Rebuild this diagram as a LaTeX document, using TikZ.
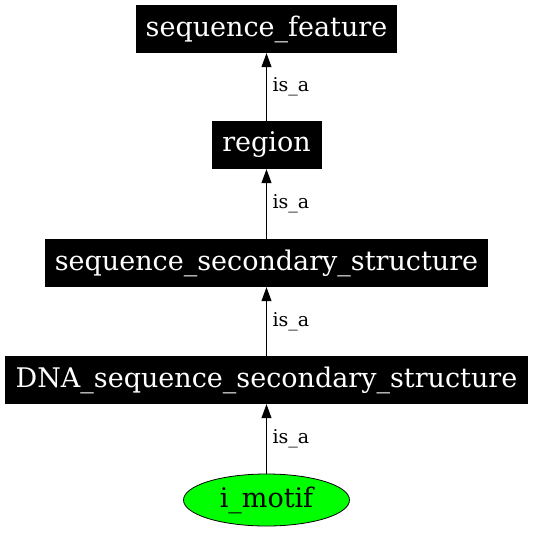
\documentclass[tikz,border=0pt]{standalone}
\usepackage{fontspec}
\setmainfont{DejaVu Serif}
\usetikzlibrary{arrows.meta,shapes.geometric}
\begin{document}
\begin{tikzpicture}[x=1pt,y=-1pt,
  termbox/.style={rectangle,fill=black,text=white,inner sep=0pt,minimum height=48pt,font=\fontsize{27}{30}\selectfont},
  leaf/.style={ellipse,draw=black,line width=0.8pt,fill=green,inner sep=0pt,minimum width=166pt,minimum height=52pt,font=\fontsize{27}{30}\selectfont},
  isa/.style={draw=black,line width=1pt,-{Triangle[length=14pt,width=10pt]}},
  lbl/.style={font=\fontsize{19}{22}\selectfont,anchor=west,inner sep=0pt}]
\useasboundingbox (0,0) rectangle (533,536);
\node[termbox,minimum width=261pt] (sf) at (266.5,29) {sequence\_feature};
\node[termbox,minimum width=110pt] (reg) at (266.5,145) {region};
\node[termbox,minimum width=443pt] (sss) at (266.5,263) {sequence\_secondary\_structure};
\node[termbox,minimum width=523pt] (dna) at (266.5,380) {DNA\_sequence\_secondary\_structure};
\node[leaf] (im) at (266.5,500) {i\_motif};
\draw[isa] (reg.north) -- (sf.south) node[lbl,pos=0.5,xshift=5.5pt] {is\_a};
\draw[isa] (sss.north) -- (reg.south) node[lbl,pos=0.5,xshift=5.5pt] {is\_a};
\draw[isa] (dna.north) -- (sss.south) node[lbl,pos=0.5,xshift=5.5pt] {is\_a};
\draw[isa] (im.north) -- (dna.south) node[lbl,pos=0.5,xshift=5.5pt] {is\_a};
\end{tikzpicture}
\end{document}
